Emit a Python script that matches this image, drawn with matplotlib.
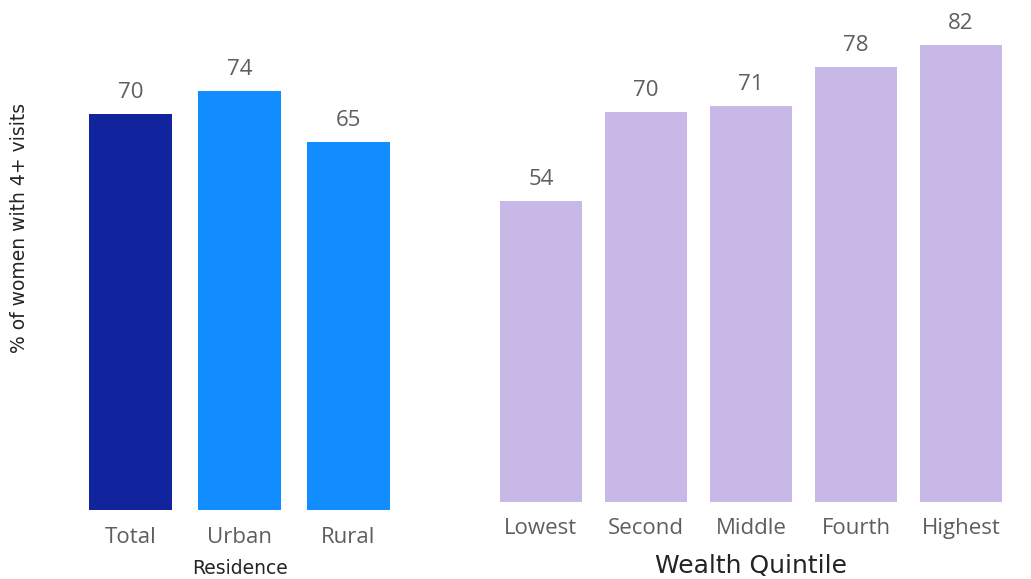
import matplotlib
matplotlib.use("Agg")
import matplotlib.pyplot as plt

res_cats = ["Total", "Urban", "Rural"]
res_vals = [70, 74, 65]
res_colors = ["#12239E", "#118DFF", "#118DFF"]

wq_cats = ["Lowest", "Second", "Middle", "Fourth", "Highest"]
wq_vals = [54, 70, 71, 78, 82]
wq_color = "#C8B8E8"

W, H = 1031, 579
fig = plt.figure(figsize=(W / 100, H / 100), dpi=100)

tick_font = ["Open Sans", "DejaVu Sans"]
title_font = ["DejaVu Sans"]
grey = "#605E5C"

def setup(ax):
    for s in ax.spines.values():
        s.set_visible(False)
    ax.set_yticks([])
    ax.tick_params(axis="x", length=0, labelsize=16, labelcolor=grey)
    for lab in ax.get_xticklabels():
        lab.set_fontfamily(tick_font)

# Left panel
ax1 = fig.add_axes([76 / W, (H - 510) / H, 327 / W, 481 / H])
x1 = range(len(res_cats))
bars = ax1.bar(x1, res_vals, width=0.76, color=res_colors)
ax1.set_xlim(-0.5, 2.5)
ax1.set_ylim(0, 85)
ax1.set_xticks(list(x1))
ax1.set_xticklabels(res_cats)
setup(ax1)
ax1.tick_params(axis="x", pad=12)
for b, v in zip(bars, res_vals):
    ax1.annotate(str(v), (b.get_x() + b.get_width() / 2, v), xytext=(0, 8),
                 textcoords="offset points", ha="center", va="bottom",
                 fontsize=16, color=grey, family=tick_font, annotation_clip=False)
ax1.set_xlabel("Residence", fontsize=13.5, color="#252423", family=title_font,
               fontweight="medium", labelpad=8)
fig.text(20 / W, (H - 228) / H, "% of women with 4+ visits", rotation=90, ha="center",
         va="center", fontsize=13.5, color="#252423", family=title_font,
         fontweight="medium")

# Right panel
ax2 = fig.add_axes([488.5 / W, (H - 502) / H, 525 / W, 473.5 / H])
x2 = range(len(wq_cats))
bars2 = ax2.bar(x2, wq_vals, width=0.78, color=wq_color)
ax2.set_xlim(-0.5, 4.5)
ax2.set_ylim(0, 85)
ax2.set_xticks(list(x2))
ax2.set_xticklabels(wq_cats)
setup(ax2)
ax2.tick_params(axis="x", pad=11.5)
for b, v in zip(bars2, wq_vals):
    ax2.annotate(str(v), (b.get_x() + b.get_width() / 2, v), xytext=(0, 8),
                 textcoords="offset points", ha="center", va="bottom",
                 fontsize=16, color=grey, family=tick_font, annotation_clip=False)
ax2.set_xlabel("Wealth Quintile", fontsize=18, color="#252423", family=title_font,
               fontweight="medium", labelpad=10.5)

fig.savefig("out.png", dpi=100, facecolor="white")
